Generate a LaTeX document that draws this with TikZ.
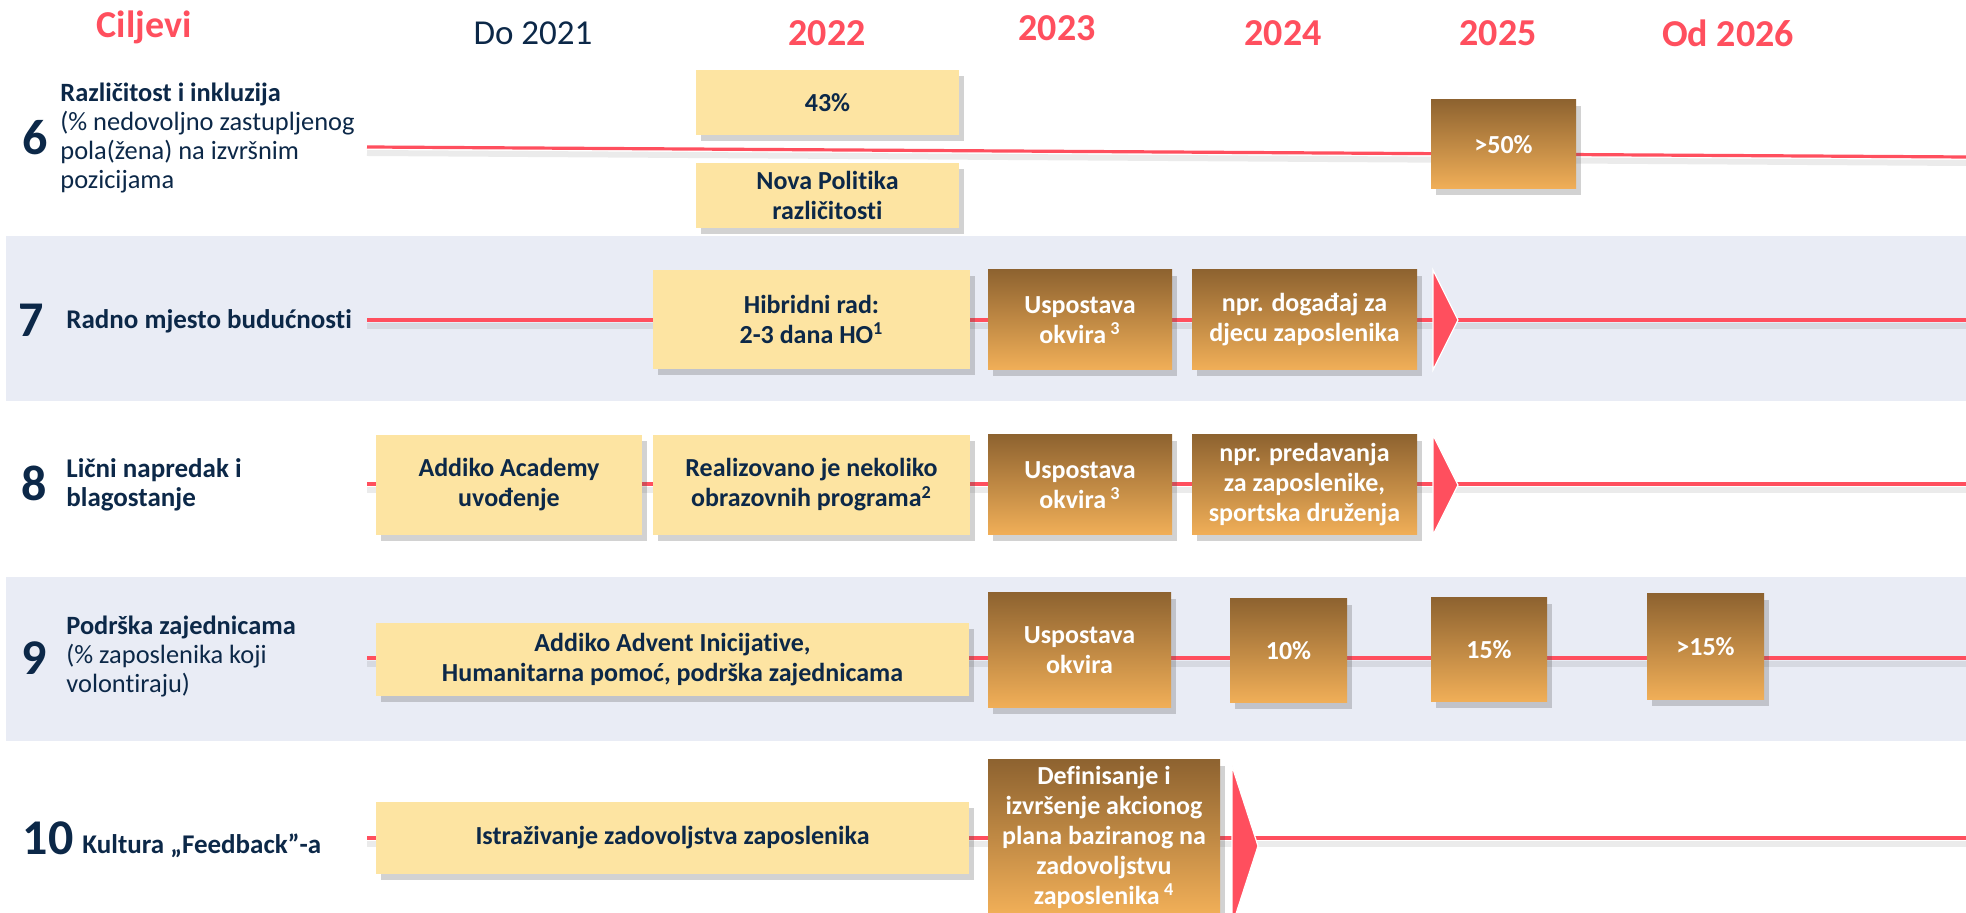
\documentclass[tikz,border=0pt]{standalone}
\usepackage{fontspec}
\setmainfont[Ligatures={NoCommon,NoRare,NoDiscretionary}]{Carlito}
\usetikzlibrary{shadows}
\definecolor{tred}{RGB}{255,79,94}
\definecolor{navy}{RGB}{12,40,72}
\definecolor{boxyel}{RGB}{253,228,162}
\definecolor{brtop}{RGB}{142,99,48}
\definecolor{brbot}{RGB}{241,175,88}
\definecolor{band}{RGB}{233,236,245}
\tikzset{
  boxbase/.style={inner sep=0pt, align=center, font=\bfseries\fontsize{13}{15}\selectfont,
    drop shadow={shadow xshift=2.5pt, shadow yshift=-3pt, opacity=0.25, fill=black!70}},
  ybox/.style={boxbase, fill=boxyel, text=navy},
  bbox/.style={boxbase, top color=brtop, bottom color=brbot, text=white},
  tline/.style={draw=tred, line width=1.6pt},
  tlineshadow/.style={draw=black, opacity=0.08, line width=3pt},
  hdr/.style={text=tred, font=\bfseries\fontsize{19}{21}\selectfont},
  hdrdo/.style={text=navy, font=\fontsize{17.5}{20}\selectfont},
  bignum/.style={text=navy, font=\bfseries\fontsize{25}{27}\selectfont},
  lbl/.style={text=navy, anchor=west, align=left, inner sep=0pt, font=\fontsize{13.2}{14.5}\selectfont},
  lblb/.style={lbl, font=\bfseries\fontsize{13.5}{14.5}\selectfont},
  tri/.style={fill=tred, draw=white, line width=0.6pt}
}
\newcommand\bx[7]{\node[#2, minimum width={(#5-#3)*0.5pt}, minimum height={(#6-#4)*0.5pt}] (#1) at ({(#3+#5)/2},{(#4+#6)/2}) {#7};}
\begin{document}
\begin{tikzpicture}[x=0.5pt,y=-0.5pt]
\useasboundingbox (0,0) rectangle (1966,913);
\fill[white] (0,0) rectangle (1966,913);
% bands
\fill[band] (6,236) rectangle (1966,401);
\fill[band] (6,577) rectangle (1966,741);
% headers
\node[hdr] (hcil) at (144,27) {Ciljevi};
\node[hdrdo] (hdo) at (533,33) {Do 2021};
\node[hdr] (h22) at (827,33) {2022};
\node[hdr] (h23) at (1057,28) {2023};
\node[hdr] (h24) at (1283,33) {2024};
\node[hdr] (h25) at (1498,33) {2025};
\node[hdr] (h26) at (1728,33) {Od 2026};
% left labels
\node[bignum] (n6) at (35,138) {6};
\node[lbl] (t6) at (60,138) {\textbf{Različitost i inkluzija}\\(\% nedovoljno zastupljenog\\pola(žena) na izvršnim\\pozicijama};
\node[bignum] (n7) at (31,320) {7};
\node[lblb] (t7) at (66,321) {Radno mjesto budućnosti};
\node[bignum] (n8) at (34,483) {8};
\node[lblb] (t8) at (66,485) {Lični napredak i\\blagostanje};
\node[bignum] (n9) at (34,658) {9};
\node[lbl] (t9) at (66,657) {\textbf{Podrška zajednicama}\\(\% zaposlenika koji\\volontiraju)};
\node[bignum] (n10) at (48,838) {10};
\node[lblb] (t10) at (82,846) {Kultura „Feedback”-a};
% timeline coordinates
\coordinate (l6s) at (367,147); \coordinate (l6e) at (1966,157);
\coordinate (l7s) at (367,320); \coordinate (l7e) at (1966,320);
\coordinate (l8s) at (367,484); \coordinate (l8e) at (1966,484);
\coordinate (l9s) at (367,658); \coordinate (l9e) at (1966,658);
\coordinate (l10s) at (367,838); \coordinate (l10e) at (1966,838);
\foreach \r in {6,7,8,9,10}{
  \draw[tlineshadow] ([yshift=-3pt]l\r s) -- ([yshift=-3pt]l\r e);
  \draw[tline] (l\r s) -- (l\r e);
}
% arrows
\coordinate (a7t) at (1433,270); \coordinate (a7p) at (1458,320); \coordinate (a7b) at (1433,370);
\coordinate (a8t) at (1433,435); \coordinate (a8p) at (1458,485); \coordinate (a8b) at (1433,535);
\coordinate (a10t) at (1232,766); \coordinate (a10p) at (1258,846); \coordinate (a10b) at (1232,926);
\draw[tri] (a7t) -- (a7p) -- (a7b) -- cycle;
\draw[tri] (a8t) -- (a8p) -- (a8b) -- cycle;
\draw[tri] (a10t) -- (a10p) -- (a10b) -- cycle;
% row 6
\bx{b43}{ybox}{696}{70}{959}{135}{43\%}
\bx{bnova}{ybox}{696}{163}{959}{228}{Nova Politika\\različitosti}
\bx{b50}{bbox}{1431}{100}{1576}{189}{>50\%}
% row 7
\bx{bhib}{ybox}{653}{270}{970}{369}{Hibridni rad:\\2-3 dana HO\textsuperscript{1}}
\bx{busp7}{bbox}{988}{270}{1172}{370}{Uspostava\\okvira\,\textsuperscript{3}}
\bx{bdog}{bbox}{1192}{270}{1417}{370}{npr. događaj za\\djecu zaposlenika}
% row 8
\bx{bacad}{ybox}{376}{435}{642}{535}{Addiko Academy\\uvođenje}
\bx{breal}{ybox}{653}{435}{970}{535}{Realizovano je nekoliko\\obrazovnih programa\textsuperscript{2}}
\bx{busp8}{bbox}{988}{435}{1172}{535}{Uspostava\\okvira\,\textsuperscript{3}}
\bx{bpred}{bbox}{1192}{435}{1417}{535}{npr. predavanja\\za zaposlenike,\\sportska druženja}
% row 9
\bx{badv}{ybox}{376}{623}{969}{696}{Addiko Advent Inicijative,\\Humanitarna pomoć, podrška zajednicama}
\bx{busp9}{bbox}{988}{593}{1171}{708}{Uspostava\\okvira}
\bx{b10}{bbox}{1230}{599}{1347}{703}{10\%}
\bx{b15}{bbox}{1431}{598}{1547}{702}{15\%}
\bx{b15p}{bbox}{1647}{594}{1764}{700}{>15\%}
% row 10
\bx{bistr}{ybox}{376}{802}{969}{874}{Istraživanje zadovoljstva zaposlenika}
\bx{bdef}{bbox}{988}{760}{1220}{914}{Definisanje i\\izvršenje akcionog\\plana baziranog na\\zadovoljstvu\\zaposlenika\,\textsuperscript{4}}
\end{tikzpicture}
\end{document}
